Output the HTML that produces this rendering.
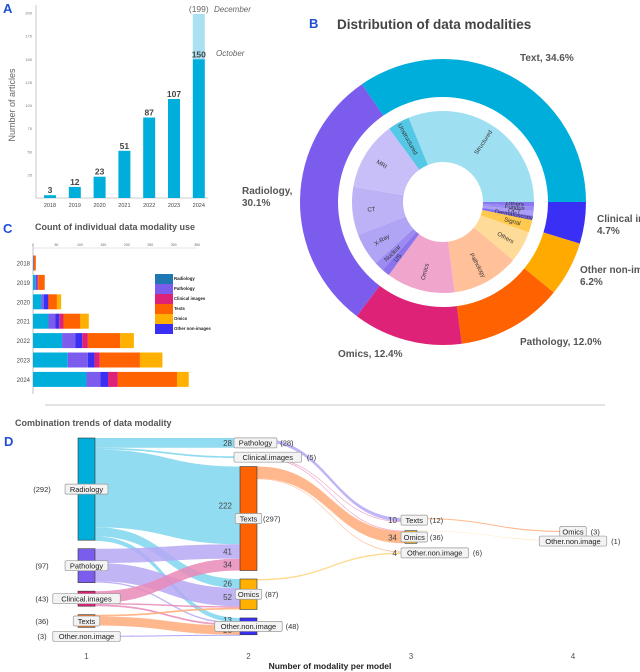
<!DOCTYPE html>
<html><head><meta charset="utf-8">
<style>
html,body{margin:0;padding:0;background:#fff;}
svg{display:block;font-family:"Liberation Sans",sans-serif;}
</style></head>
<body>
<svg id="fig" width="640" height="672" viewBox="0 0 640 672" xmlns="http://www.w3.org/2000/svg">
<g id="pa"></g>
<g id="pb"></g>
<g id="pc"></g>
<line x1="45" y1="405" x2="605" y2="405" stroke="#e3e3e3" stroke-width="2"/>
<g id="pd"></g>
</svg>
<script>
// ---------- Panel A data ----------
const yearsA = ["2018","2019","2020","2021","2022","2023","2024"];
const articlesA = [3,12,23,51,87,107,150];
const projectedA = 199;
const ticksA = [25,50,75,100,125,150,175,200];
// ---------- Panel B data ----------
const outerLabels = ["Clinical images, 4.7%","Other non-images, 6.2%","Pathology, 12.0%","Omics, 12.4%","Radiology, 30.1%","Text, 34.6%"];
const outerValues = [4.7,6.2,12.0,12.4,30.1,34.6];
const innerLabels = ["Others","Fundus","OCT","Dermatoscopy","Signal","Others","Pathology","Omics","US","Nuclear","X-Ray","CT","MRI","Unstructured","Structured"];
const innerValues = [0.8,0.8,0.8,0.8,2.2,5.6,11.9,12.2,1.4,1.7,5.8,8.6,12.2,3.9,31.1];
// ---------- Panel C data ----------
const yearsC = ["2018","2019","2020","2021","2022","2023","2024"];
const seriesC = ["Radiology","Pathology","Other non-images","Clinical images","Texts","Omics"];
const radC = [1,5,18,33,62,74,114];
const pathC = [0,2,5,15,28,43,30];
const othC = [0,2,9,8,15,14,16];
const clinC = [1,2,1,9,12,11,21];
const textC = [4,14,18,36,69,86,126];
const omicsC = [0,0,9,18,29,48,25];
const ticksC = [0,50,100,150,200,250,300,350];
const legendC = ["Radiology","Pathology","Clinical images","Texts","Omics","Other non-images"];
// ---------- Panel D data ----------
const nodeNames = [
 ["Radiology","Pathology","Clinical.images","Texts","Other.non.image"],
 ["Pathology","Clinical.images","Texts","Omics","Other.non.image"],
 ["Texts","Omics","Other.non.image"],
 ["Omics","Other.non.image"]];
const nodeValues = [[292,97,43,36,3],[28,5,297,87,48],[12,36,6],[3,1]];
const flowCol = [0,0,0,0,0, 0,0,0, 0,0,0, 0,0, 0, 1,1,1,1,1,1, 2,2];
const flowSrc = [0,0,0,0,0, 1,1,1, 2,2,2, 3,3, 4, 0,1,1,2,2,3, 0,1];
const flowTgt = [0,1,2,3,4, 2,3,4, 2,3,4, 3,4, 4, 0,0,1,1,2,2, 0,1];
const flowVal = [28,5,222,26,13, 41,52,4, 34,4,5, 5,26, 3, 10,2,2,34,2,4, 3,1];
const flowShown = [1,0,1,1,1, 1,1,0, 1,0,0, 0,1, 0, 1,0,0,1,0,1, 0,0];
const axisTicksD = ["1","2","3","4"];

const NS="http://www.w3.org/2000/svg";
function mk(parent,tag,attrs,text){const e=document.createElementNS(NS,tag);for(const k in attrs)e.setAttribute(k,attrs[k]);if(text!==undefined)e.textContent=text;parent.appendChild(e);return e;}

// ---------- Panel A ----------
(function(){
 const g=document.getElementById('pa');
 const base=198, k=0.925, x0=50, step=24.8, bw=12;
 const yA=v=>base-v*k, xA=i=>x0+i*step;
 let t=mk(g,'text',{x:3,y:13,'font-size':13,'font-weight':'bold',fill:'#1f4fd6'},'A');
 
 let l=mk(g,'line',{x1:36,y1:5,x2:36,y2:198,stroke:'#bbb','stroke-width':0.8});
 
 l=mk(g,'line',{x1:36,y1:198,x2:208,y2:198,stroke:'#bbb','stroke-width':0.8});
 
 ticksA.forEach(v=>{const e=mk(g,'text',{x:32,y:yA(v)+1.5,'font-size':4,'text-anchor':'end',fill:'#777'},v);
  });
 t=mk(g,'text',{x:0,y:0,'font-size':9,fill:'#666','text-anchor':'middle',transform:'translate(15,105) rotate(-90)'},'Number of articles');
 
 const last=articlesA.length-1;
 let r=mk(g,'rect',{x:xA(last)-bw/2,y:yA(projectedA),width:bw,height:(projectedA-articlesA[last])*k,fill:'#a9e1f3'});
 
 articlesA.forEach((v,i)=>{
  const b=mk(g,'rect',{x:xA(i)-bw/2,y:yA(v),width:bw,height:v*k,fill:'#00aedb'});
  
  const lv=mk(g,'text',{x:xA(i),y:yA(v)-2,'font-size':8.5,'font-weight':'bold','text-anchor':'middle',fill:'#444'},v);
  
  const yl=mk(g,'text',{x:xA(i),y:207,'font-size':5.5,'text-anchor':'middle',fill:'#444'},yearsA[i]);
  
 });
 t=mk(g,'text',{x:xA(last),y:yA(projectedA)-2,'font-size':8.5,'text-anchor':'middle',fill:'#666'},'('+projectedA+')');
 
 t=mk(g,'text',{x:214,y:12,'font-size':8,'font-style':'italic',fill:'#666'},'December');
 
 t=mk(g,'text',{x:216,y:56,'font-size':8,'font-style':'italic',fill:'#666'},'October');
 
})();

// ---------- Panel B ----------
(function(){
 const g=document.getElementById('pb');
 const cx=443, cy=202;
 let t=mk(g,'text',{x:309,y:28,'font-size':13,'font-weight':'bold',fill:'#1f4fd6'},'B');
 
 t=mk(g,'text',{x:337,y:29,'font-size':13.5,'font-weight':'bold',fill:'#444'},'Distribution of data modalities');
 
 function pt(a,r){const rad=a*Math.PI/180;return [cx+r*Math.sin(rad),cy-r*Math.cos(rad)];}
 function arc(a0,a1,r0,r1){const [x1,y1]=pt(a0,r1),[x2,y2]=pt(a1,r1),[x3,y3]=pt(a1,r0),[x4,y4]=pt(a0,r0);const lg=(a1-a0)>180?1:0;
  return `M${x1},${y1}A${r1},${r1} 0 ${lg} 1 ${x2},${y2}L${x3},${y3}A${r0},${r0} 0 ${lg} 0 ${x4},${y4}Z`;}
 const oc=['#3a2ff5','#ffaa00','#ff6200','#dd2277','#7b5cec','#00aedb'];
 const otot=outerValues.reduce((a,b)=>a+b,0);
 let a=90;
 const lpos=[[597,222,'start'],[580,273,'start'],[520,345,'start'],[338,357,'start'],[242,194,'start'],[520,61,'start']];
 outerValues.forEach((v,i)=>{
  const a1=a+v/otot*360;
  const p=mk(g,'path',{d:arc(a,a1,105,143),fill:oc[i]});
  
  
  a=a1;
 });
 outerLabels.forEach((s,i)=>{
  const parts=s.split(', ');
  const te=mk(g,'text',{x:lpos[i][0],y:lpos[i][1],'font-size':10,'font-weight':'bold',fill:'#555'});
  
  if(i<2||i==4){mk(te,'tspan',{x:lpos[i][0],dy:0},parts[0]+',');mk(te,'tspan',{x:lpos[i][0],dy:12},parts[1]);}
  else te.textContent=s;
 });
 const ic=['#8877f0','#9a8cf3','#a99ef5','#7f6cf0','#ffc94d','#ffdb99','#ffc09a','#f0a6cc','#8a74ee','#9d8bf1','#b0a4f5','#bdb2f6','#c9bff8','#55c8e6','#9edff2'];
 const itot=innerValues.reduce((a,b)=>a+b,0);
 a=90;
 innerValues.forEach((v,i)=>{
  const a1=a+v/itot*360;
  const p=mk(g,'path',{d:arc(a,a1,40,91),fill:ic[i]});
  
  
  const m=(a+a1)/2;const [lx,ly]=pt(m,72);
  let rot=m-90; if(m>180&&m<360){rot=m+90;}
  const te=mk(g,'text',{x:lx,y:ly+2,'font-size':6,'text-anchor':'middle',fill:'#333',transform:`rotate(${rot} ${lx} ${ly})`},innerLabels[i]);
  
  a=a1;
 });
})();

// ---------- Panel C ----------
(function(){
 const g=document.getElementById('pc');
 const x0=33,k=0.469,y0=263,step=19.4,bh=15;
 const xC=v=>x0+v*k, yC=i=>y0+i*step;
 let t=mk(g,'text',{x:3,y:233,'font-size':13,'font-weight':'bold',fill:'#1f4fd6'},'C');
 
 t=mk(g,'text',{x:35,y:230,'font-size':9,'font-weight':'bold',fill:'#555'},'Count of individual data modality use');
 
 let l=mk(g,'line',{x1:33,y1:246,x2:33,y2:394,stroke:'#999','stroke-width':0.6});
 
 l=mk(g,'line',{x1:33,y1:248,x2:197,y2:248,stroke:'#ccc','stroke-width':0.5});
 
 ticksC.forEach(v=>{const e=mk(g,'text',{x:xC(v),y:246,'font-size':3.5,'text-anchor':'middle',fill:'#666'},v);
  });
 const series=[radC,pathC,othC,clinC,textC,omicsC];
 const cols=['#00aedb','#7b5cec','#3a2ff5','#dd2277','#ff6200','#ffb000'];
 yearsC.forEach((yr,i)=>{
  let acc=0;
  series.forEach((s,j)=>{
   const r=mk(g,'rect',{x:xC(acc),y:yC(i)-bh/2,width:s[i]*k,height:bh,fill:cols[j]});
   
   
   acc+=s[i];
  });
  const e=mk(g,'text',{x:30,y:yC(i)+2.5,'font-size':6,'text-anchor':'end',fill:'#444'},yr);
  
 });
 const lc=['#1f78b4','#7b5cec','#dd2277','#ff6200','#ffb000','#3a2ff5'];
 legendC.forEach((s,i)=>{
  const r=mk(g,'rect',{x:155,y:274+i*10,width:18,height:10,fill:lc[i]});
  
  const e=mk(g,'text',{x:174,y:280+i*10,'font-size':4.3,'font-weight':'bold',fill:'#222'},s);
  
 });
})();

// ---------- Panel D ----------
(function(){
 const g=document.getElementById('pd');
 const k=0.35, gap=8.5;
 const colX=[78,240,405,568], colW=[17,17,12,0], colStart=[438,438,518,531];
 const nc=[['#00aedb','#7b5cec','#dd2277','#ff6200','#3a2ff5'],['#7b5cec','#dd2277','#ff6200','#ffb000','#3a2ff5'],['#ff6200','#ffb000','#3a2ff5'],['#ffb000','#3a2ff5']];
 const fc={'#00aedb':'#7fd6ee','#7b5cec':'#b7a8f5','#dd2277':'#e98ab8','#ff6200':'#ffab7a','#ffb000':'#ffd27a','#3a2ff5':'#9f98f9'};
 let t=mk(g,'text',{x:15,y:426,'font-size':9,'font-weight':'bold',fill:'#555'},'Combination trends of data modality');
 
 t=mk(g,'text',{x:4,y:446,'font-size':13,'font-weight':'bold',fill:'#1f4fd6'},'D');
 
 const ny=nodeValues.map((vals,c)=>{let y=colStart[c];return vals.map(v=>{const r=[y,v*k];y+=v*k+gap;return r;});});
 const outOff=nodeValues.map(v=>v.map(()=>0)), inOff=nodeValues.map(v=>v.map(()=>0));
 const links=[];
 flowVal.forEach((v,i)=>{
  const c=flowCol[i],s=flowSrc[i],tg=flowTgt[i],h=v*k;
  const sy=ny[c][s][0]+outOff[c][s], ty=ny[c+1][tg][0]+inOff[c+1][tg];
  outOff[c][s]+=h; inOff[c+1][tg]+=h;
  const xa=colX[c]+colW[c], xb=colX[c+1], mx=(xa+xb)/2;
  const d=`M${xa},${sy}C${mx},${sy} ${mx},${ty} ${xb},${ty}L${xb},${ty+h}C${mx},${ty+h} ${mx},${sy+h} ${xa},${sy+h}Z`;
  const p=mk(g,'path',{d:d,fill:fc[nc[c][s]],'fill-opacity':0.85});
  
  
  if(flowShown[i]){links.push([xb-8,ty+h/2+3,v]);}
 });
 links.forEach(L=>{const e=mk(g,'text',{x:L[0],y:L[1],'font-size':8,'text-anchor':'end',fill:'#444'},L[2]);
  });
 nodeValues.forEach((vals,c)=>{
  vals.forEach((v,i)=>{
   const [y,h]=ny[c][i];
   if(colW[c]>0&&h>1.5){
    const r=mk(g,'rect',{x:colX[c],y:y,width:colW[c],height:h,fill:nc[c][i],stroke:'#333','stroke-width':0.6});
    
   }
   const name=nodeNames[c][i], w=name.length*4.1+6, cyy=y+Math.max(h,1)/2;
   let bx = c==0 ? colX[0]+8.5-w/2 : (c==1 ? colX[1]+8.5-w/2 : (c==2? colX[2]-4 : colX[3]+5-w/2));
   if(c==1&&i<2) bx=colX[1]-6;
   const b=mk(g,'rect',{x:bx,y:cyy-5,width:w,height:10,rx:1.5,fill:'#f3f3f3',stroke:'#999','stroke-width':0.7});
   
   const e=mk(g,'text',{x:bx+w/2,y:cyy+2.8,'font-size':7.5,'text-anchor':'middle',fill:'#222'},name);
   
   const cx = c==0 ? 42 : (c==1 ? Math.max(colX[1]+30,bx+w+10) : bx+w+9);
   const ce=mk(g,'text',{x:cx,y:cyy+2.8,'font-size':7.5,'text-anchor':'middle',fill:'#333'},'('+v+')');
   
  });
 });
 axisTicksD.forEach((s,i)=>{const e=mk(g,'text',{x:colX[i]+(i<2?8.5:(i==2?6:5)),y:659,'font-size':8,'text-anchor':'middle',fill:'#555'},s);
  });
 t=mk(g,'text',{x:330,y:669,'font-size':8.5,'font-weight':'bold','text-anchor':'middle',fill:'#222'},'Number of modality per model');
 
})();
</script>
</body></html>
